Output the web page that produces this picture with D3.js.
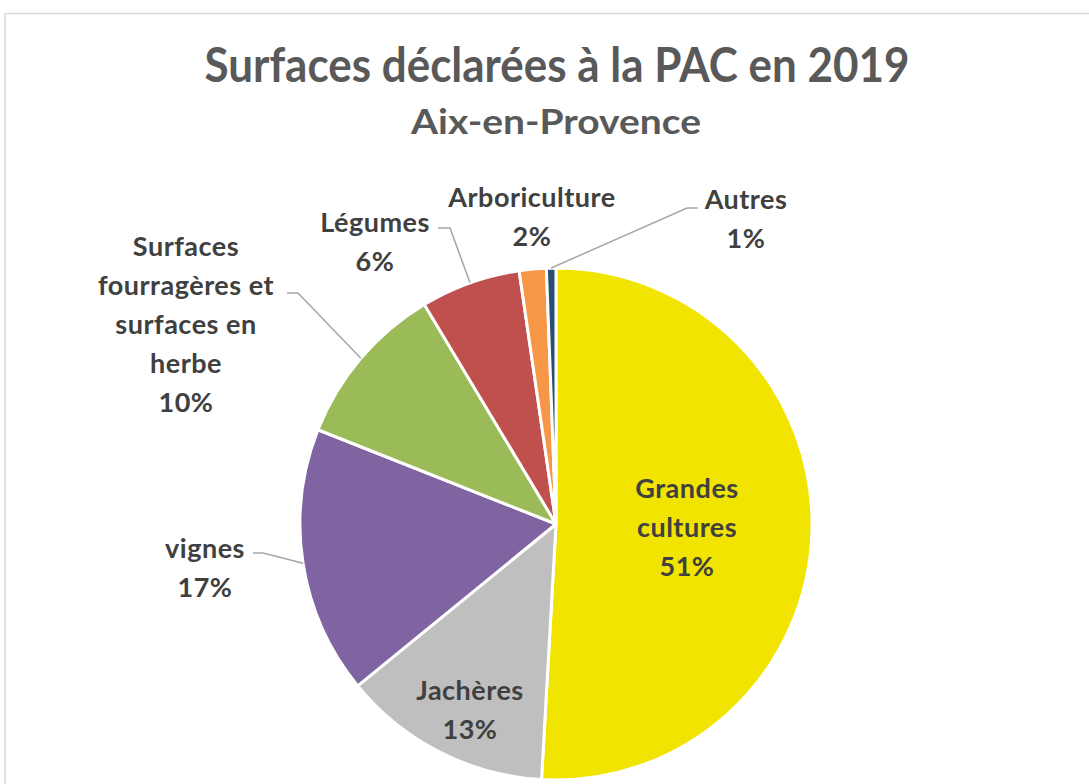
<!DOCTYPE html>
<html>
<head>
<meta charset="utf-8">
<script src="https://cdn.jsdelivr.net/npm/d3@7"></script>
<style>
  html, body { margin: 0; padding: 0; background: #fff; }
  svg { display: block; }
  text { font-family: Lato, "Open Sans", sans-serif; font-weight: 700; }
</style>
</head>
<body>
<svg id="chart" width="1089" height="784"></svg>
<script>
// ---- data ----
const categories = ["Grandes cultures", "Jachères", "vignes",
  "Surfaces fourragères et surfaces en herbe", "Légumes", "Arboriculture", "Autres"];
const values = [50.9, 13.2, 16.9, 10.4, 6.3, 1.7, 0.6];
const colors = ["#f0e400", "#bfbfbf", "#8064a2", "#9bbb59", "#c0504d", "#f79646", "#2c4d75"];
const labelLines = [
  ["Grandes", "cultures"],
  ["Jachères"],
  ["vignes"],
  ["Surfaces", "fourragères et", "surfaces en", "herbe"],
  ["Légumes"],
  ["Arboriculture"],
  ["Autres"]
];
const titleText = "Surfaces déclarées à la PAC en 2019";
const subtitleText = "Aix-en-Provence";

// ---- layout ----
const W = 1089, H = 784;
const cx = 556, cy = 524, R = 256;
const labelLayout = [
  { x: 687, y: 498, leader: false },
  { x: 470, y: 700, leader: false },
  { x: 205, y: 558, leader: true, elbow: [263, 553], end: [253, 553] },
  { x: 186, y: 256, leader: true, elbow: [298, 293], end: [287, 293] },
  { x: 375, y: 232, leader: true, elbow: [450, 228], end: [438, 228] },
  { x: 532, y: 207, leader: false },
  { x: 746, y: 209, leader: true, elbow: [687, 208], end: [698, 208] }
];
const lineH = 39;

const svg = d3.select("#chart");

// frame
svg.append("line").attr("x1", 5).attr("x2", W).attr("y1", 13.5).attr("y2", 13.5)
  .attr("stroke", "#d9d9d9").attr("stroke-width", 1.5);
svg.append("line").attr("x1", 5).attr("x2", 5).attr("y1", 13).attr("y2", H)
  .attr("stroke", "#d9d9d9").attr("stroke-width", 1.5);

// titles
svg.append("text").attr("x", 557).attr("y", 82).attr("text-anchor", "middle")
  .attr("font-size", 47).attr("fill", "#595959")
  .attr("textLength", 705).attr("lengthAdjust", "spacingAndGlyphs")
  .text(titleText);
svg.append("text").attr("x", 556).attr("y", 134).attr("text-anchor", "middle")
  .attr("font-size", 35).attr("fill", "#595959")
  .attr("textLength", 290).attr("lengthAdjust", "spacingAndGlyphs")
  .text(subtitleText);

// pie
const total = d3.sum(values);
const pie = d3.pie().sort(null).value(d => d)(values);
const arc = d3.arc().innerRadius(0).outerRadius(R);
const g = svg.append("g").attr("transform", `translate(${cx},${cy})`);
g.selectAll("path").data(pie).join("path")
  .attr("d", arc)
  .attr("fill", (d, i) => colors[i])
  .attr("stroke", "#fff").attr("stroke-width", 3).attr("stroke-linejoin", "round");

// leader lines
pie.forEach((d, i) => {
  const L = labelLayout[i];
  if (!L.leader) return;
  const a = (d.startAngle + d.endAngle) / 2;
  const sx = cx + R * Math.sin(a), sy = cy - R * Math.cos(a);
  svg.append("polyline")
    .attr("points", [[sx, sy], L.elbow, L.end].map(p => p.join(",")).join(" "))
    .attr("fill", "none").attr("stroke", "#a6a6a6").attr("stroke-width", 1.5);
});

// labels
pie.forEach((d, i) => {
  const L = labelLayout[i];
  const lines = labelLines[i].concat([Math.round(d.value / total * 100) + "%"]);
  const t = svg.append("text").attr("text-anchor", "middle")
    .attr("font-size", 27).attr("letter-spacing", 0.5).attr("fill", "#404040");
  lines.forEach((s, k) => {
    t.append("tspan").attr("x", L.x).attr("y", L.y + k * lineH).text(s);
  });
});
</script>
</body>
</html>
